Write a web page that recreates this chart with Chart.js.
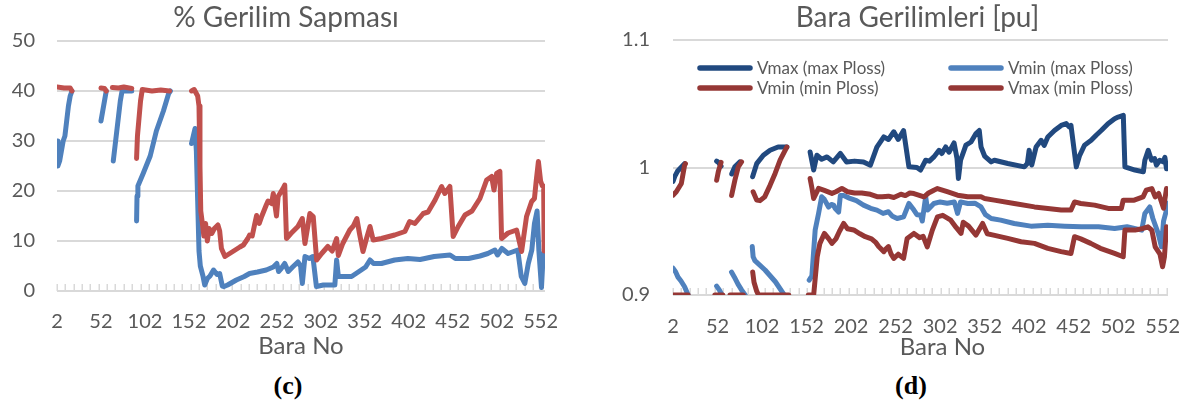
<!DOCTYPE html>
<html><head><meta charset="utf-8">
<script src="https://cdn.jsdelivr.net/npm/chart.js@4.4.0/dist/chart.umd.min.js"></script>
<style>
html,body{margin:0;padding:0;background:#fff;}
body{width:1190px;height:405px;position:relative;overflow:hidden;font-family:Lato,sans-serif;}
#wc{position:absolute;left:0;top:0;width:560px;height:365px;}
#wd{position:absolute;left:600px;top:0;width:590px;height:365px;}
.cap{position:absolute;width:60px;text-align:center;font-family:"Liberation Serif","Times New Roman",serif;font-weight:bold;font-size:26px;line-height:26px;color:#000;top:373px;}
</style></head><body>
<div id="wc"><canvas id="cc"></canvas></div>
<div id="wd"><canvas id="cd"></canvas></div>
<div class="cap" style="left:258px">(c)</div>
<div class="cap" style="left:881px">(d)</div>
<script>
// ---------- shared axis data ----------
const xTickValues = [2, 52, 102, 152, 202, 252, 302, 352, 402, 452, 502, 552];
const yTicksC = [0, 10, 20, 30, 40, 50];
const yTicksD = [0.9, 1.0, 1.1];
const yLabelsD = ['0.9', '1', '1.1'];

// ---------- chart (c): % Gerilim Sapması ----------
const cBlueBus = [2,3,5,7,9,11,13,15,17,19, 20,
  52,54,56,58, 60,
  66,68,70,72,74,76,87, 90,
  92.5,93,94,100,108,115,123,129,131, 140,
  155,157,159,160.5,162,163.5,165,168,170,173,176,180,184,187,190,192,196,206,215,221,230,240,248,252,254,257,261,265,270,276,279,281,284,289,293,297,305,318,320,322,337,348,353,358,362,371,386,401,415,431,449,455,470,483,492,500,503,508,515,526,530,534,538,542,545,548,550,553,555];
const cBlueVal = [30,25,26,28,30,31,34,37,39,40, null,
  34,36,38,40, null,
  26,29,32,35,38,40,40, null,
  14,19,21,23.5,27,32,36,39.5,40, null,
  29.5,31,32.5,28,18,8,5,3,1.2,2.5,3,4.2,3.3,3.5,1,0.9,1.2,2.2,2.9,3.5,3.8,4.2,4.8,5.5,3.9,4.5,5.5,3.9,4.8,5.8,5,1.5,6.9,6.5,6.9,0.9,1.2,1.2,6.2,2.9,2.9,4.2,4.8,6.2,5.5,5.5,6.2,6.5,6.3,6.9,7.2,6.5,6.5,7,7.5,8.2,7.2,8.5,7.5,8.2,2.9,1.5,5.5,8.2,13.5,16,8.2,0.7,7.5];

const cRedBus = [2,10,17,19, 20,
  52,56,58, 60,
  65,72,78,87, 90,
  92.5,93.5,95,97,99,110,120,130, 140,
  155,158,162,163.5,164.6,165.5,167,169,171,173,175,178,181,185,187,189,193,202,210,214,219,221,224,227,229,232,235,240,242,246,248,251.6,253.5,259,261,263,268,276,281,284,289.6,293.4,297.3,303,310,315,320,322,327,335,339,343,346,350,354,358,361.6,371,386,397.7,403,409,418.5,424,432,439.4,443,448.8,452.6,458.3,466,474,483,490.6,496.3,499,502,505.7,507.6,515,524.7,530.4,536,541.8,545,547,549.5,552,554,555.5,556];
const cRedVal = [40.8,40.6,40.6,40, null,
  40.6,40.5,40, null,
  40.7,40.6,40.8,40.5, null,
  26.5,31,34,38,40.3,40,40.2,40, null,
  40,40.3,39,37,25,16,14,11,13.5,10,12.5,11.5,12.5,13.2,12,8.5,6.9,7.9,8.8,9.2,10.5,11.2,11,13.5,15.1,13.5,15,17.2,18,17.5,19.5,15,18.9,20.5,21.2,10.5,11.5,12.9,14.5,9.5,15.5,14.9,6.2,7.5,8.9,8,10.5,7.1,9.5,12.2,13,14.5,11.5,7.9,10.5,12.9,10.2,10.5,11.2,11.9,13.9,13.5,15.5,15.8,18.2,20.9,19.5,20.9,10.9,12.9,15.2,16,18.5,22.2,22.9,20.2,23.5,23.9,10.5,11.6,12.2,7.9,14.9,17.9,18.5,22,25.9,22,21,21,8];

// ---------- chart (d): Bara Gerilimleri [pu] ----------
const dSeriesNames = ['Vmax (max Ploss)', 'Vmin (max Ploss)', 'Vmin (min Ploss)', 'Vmax (min Ploss)'];

const dVmaxMaxBus = [2,4,7,11,15, 20,
  51,53,56, 60,
  68,71.5,77, 85,
  91.4,96,103.5,111,120,130, 140,
  156,160,163.6,169,175,182,190,197,206,216,223.7,231,238.8,244,250,255,261,267,276,280,285.8,290,295,300.8,304,308.3,312,317.7,321,322.6,325,331,336.7,342.3,346,348,352,359.4,363,378,396.6,400,402,405,409.8,415.5,419,423,430.5,438,443.7,447,449,455,458.5,464.2,471.7,477.3,483,490.6,498,502,507.8,509.6,520.9,530.3,532,535.8,539.5,543,545,548.8,552.5,554.5,556.3];
const dVmaxMaxVal = [0.989,0.993,0.997,1.0,1.003, null,
  1.005,1.004,1.001, null,
  0.995,1.0005,1.0044, null,
  0.9927,1.003,1.0096,1.0135,1.0161,1.0161, null,
  1.0122,0.998,1.0096,1.0065,1.0083,1.0044,1.011,1.0044,1.005,1.0044,1.0018,1.016,1.024,1.022,1.028,1.022,1.029,1.0005,1.0,0.998,1.0057,1.005,1.0083,1.0135,1.011,1.0161,1.012,1.0193,1.007,0.9914,1.0057,1.0175,1.020,1.0266,1.029,1.0161,1.009,1.0044,1.0057,1.0031,1.0005,1.0031,1.0135,1.002,1.016,1.0213,1.0174,1.0239,1.029,1.033,1.0344,1.0318,1.033,1.0005,1.009,1.0175,1.0213,1.0253,1.029,1.0344,1.0383,1.0396,1.0409,1.0005,0.998,0.9966,1.0057,1.0135,1.0057,1.007,1.0018,1.0057,1.0044,1.008,0.999];

const dVminMaxBus = [2,5,7.6,11,15,19, 25,
  51,54,57, 60,
  67.7,71,75,79,83, 86,
  91,92,94,105.4,117,126,127, 140,
  155,158,161.7,165.5,169,172,176.7,180,182.4,184,188,190,193.7,200,208,216,224,231,238,244,248,253.8,261,267,272.6,276,280,282,285.8,288,295,302,310,318,321.6,325,333,341,348,353,359.4,370,385.3,404,423,442,460.5,480,498,512,528.5,532,537.5,541,547,550.7,553,556.3,557];
const dVminMaxVal = [0.921,0.918,0.914,0.911,0.9065,0.9, null,
  0.907,0.904,0.9, null,
  0.918,0.914,0.9085,0.904,0.9, null,
  0.938,0.93,0.927,0.9196,0.9104,0.901,0.9, null,
  0.9117,0.915,0.951,0.964,0.977,0.975,0.969,0.971,0.9705,0.968,0.965,0.978,0.978,0.976,0.974,0.9705,0.968,0.9666,0.964,0.9653,0.962,0.960,0.9613,0.9718,0.9666,0.963,0.9627,0.958,0.977,0.9666,0.9718,0.973,0.972,0.973,0.964,0.973,0.9718,0.972,0.9691,0.963,0.960,0.9587,0.9561,0.954,0.9548,0.954,0.9535,0.9535,0.9522,0.9535,0.9509,0.964,0.9691,0.960,0.9483,0.9378,0.958,0.9666,0.972];

const dVminMinBus = [2,19, 25,
  49,58, 60,
  66,81, 86,
  91.5,93,96,98,132, 140,
  154,160,162,164,167,172,177,180.5,185,189,193.7,198,205,212,218,225,230,233,238.8,241,244,247,250,255,261,265,272.6,279,283,287.6,293.3,299,305,314,320,325.5,328,334,342.3,349.8,355,362,378,393,408,423,438,449,453,460,471.2,482,498,507.7,509.6,521,530,535.5,539.8,543.6,549,551.9,554,556.3];
const dVminMinVal = [0.9,0.9, null,
  0.9,0.9, null,
  0.9,0.9, null,
  0.918,0.91,0.903,0.9,0.9, null,
  0.9,0.9,0.915,0.93,0.9405,0.9483,0.944,0.9405,0.944,0.950,0.9561,0.952,0.951,0.948,0.9457,0.944,0.941,0.938,0.934,0.936,0.938,0.932,0.9287,0.932,0.9287,0.9444,0.9483,0.945,0.946,0.9378,0.9509,0.9613,0.9625,0.9587,0.953,0.9483,0.957,0.954,0.947,0.9561,0.948,0.947,0.9444,0.9418,0.9405,0.9366,0.934,0.9326,0.9457,0.944,0.9405,0.9366,0.9326,0.930,0.9509,0.9509,0.9522,0.9535,0.9509,0.9378,0.932,0.9222,0.93,0.9535];

const dVmaxMinBus = [2,5.7,11.4,15,16, 20,
  51,53,56, 60,
  67.8,71.5,75.3,79, 85,
  92,96,99.7,105,111,116.7,122.3,129.8, 140,
  156,158,160,165.5,172,180.5,185,191.7,198,206,214,223.7,232,237,244,250,258,263,268,272.6,284,289,295,299,310,321.6,333,348,352,362.8,385.3,408,423,438,449,453,460,475.5,491,505.6,507.7,520,530,533.5,539.8,543.6,547.5,553,556.3];
const dVmaxMinVal = [0.9783,0.981,0.9875,1.0018,1.003, null,
  0.990,0.997,1.004, null,
  0.978,0.990,1.0005,1.0044, null,
  0.981,0.9744,0.974,0.977,0.986,0.9953,1.0057,1.016, null,
  0.9914,0.984,0.9757,0.9836,0.982,0.9797,0.981,0.9836,0.981,0.980,0.98,0.979,0.977,0.977,0.9775,0.9765,0.979,0.978,0.980,0.9796,0.977,0.980,0.9822,0.9835,0.981,0.9783,0.977,0.977,0.9757,0.9744,0.9718,0.9691,0.9679,0.9666,0.9666,0.973,0.9718,0.9705,0.9679,0.9679,0.9744,0.9744,0.977,0.9822,0.9835,0.977,0.9796,0.968,0.9835];

// ---------- helpers ----------
const pts = (xs, ys) => xs.map((x, i) => ({x: x, y: ys[i]}));
const GRAY = '#595959';
const GRID = '#d9d9d9';
const FONT = 'Lato, "Open Sans", sans-serif';

const minorTicks = {
  id: 'minorTicks',
  beforeDatasetsDraw(chart, args, o) {
    const {ctx, chartArea, scales} = chart;
    const x = scales.x;
    ctx.save();
    ctx.strokeStyle = GRID;
    ctx.lineWidth = 1.5;
    for (let v = x.min; v <= x.max + 0.01; v += o.step) {
      const px = Math.round(x.getPixelForValue(v)) + 0.25;
      ctx.beginPath();
      ctx.moveTo(px, chartArea.bottom);
      ctx.lineTo(px, chartArea.bottom - o.len);
      ctx.stroke();
    }
    ctx.restore();
  }
};

// shifts the Chart.js title block horizontally (Excel places it off the plot centre)
const titleShift = {
  id: 'titleShift',
  afterLayout(chart, args, o) {
    const t = chart.titleBlock;
    if (t && o.dx) { t.left += o.dx; t.right += o.dx; }
  }
};

const gridLegend = {
  id: 'gridLegend',
  afterDraw(chart, args, o) {
    if (!o.display) return;
    const {ctx, chartArea} = chart;
    ctx.save();
    ctx.font = '17px ' + FONT;
    ctx.textBaseline = 'middle';
    ctx.textAlign = 'left';
    chart.data.datasets.forEach((ds, i) => {
      const col = i % 2, row = Math.floor(i / 2);
      const x0 = chartArea.left + o.colX[col];
      const y0 = chartArea.top + o.rowY[row];
      ctx.strokeStyle = ds.borderColor;
      ctx.lineWidth = 5.5;
      ctx.lineCap = 'round';
      ctx.beginPath();
      ctx.moveTo(x0 + 3, y0);
      ctx.lineTo(x0 + o.swatch - 3, y0);
      ctx.stroke();
      ctx.fillStyle = GRAY;
      ctx.fillText(ds.label, x0 + o.swatch + 4, y0 + 1);
    });
    ctx.restore();
  }
};

const shiftedXTitle = {
  id: 'shiftedXTitle',
  afterDraw(chart, args, o) {
    if (!o.display) return;
    const {ctx, chartArea} = chart;
    ctx.save();
    ctx.font = '24px ' + FONT;
    ctx.fillStyle = GRAY;
    ctx.textAlign = 'center';
    ctx.textBaseline = 'middle';
    ctx.fillText(o.text, (chartArea.left + chartArea.right) / 2 + o.dx, o.y);
    ctx.restore();
  }
};

function lineDs(label, data, color, order) {
  return {label, data, borderColor: color, backgroundColor: color, borderWidth: 5,
    pointRadius: 0, pointHoverRadius: 0, tension: 0, spanGaps: false, order,
    borderJoinStyle: 'round', borderCapStyle: 'round', fill: false};
}

function xScale(max, padTicks, h, showTitle) {
  return {
    type: 'linear', min: 2, max: max,
    afterBuildTicks(s) { s.ticks = xTickValues.map(v => ({value: v})); },
    ticks: {autoSkip: false, maxRotation: 0, padding: padTicks, color: GRAY,
      font: {family: FONT, size: 20}, callback: v => String(v)},
    grid: {display: false, drawTicks: false},
    border: {display: false},
    title: {display: showTitle, text: 'Bara No', color: GRAY, font: {family: FONT, size: 24},
      padding: {top: 0, bottom: 4}},
    afterFit(s) { s.height = h; s.paddingLeft = 0; s.paddingRight = 0; }
  };
}

function yScale(min, max, ticksArr, labelsArr, pad, width) {
  return {
    min, max,
    afterBuildTicks(s) { s.ticks = ticksArr.map(v => ({value: v})); },
    ticks: {padding: pad, color: GRAY, font: {family: FONT, size: 20},
      callback: (v, i) => labelsArr ? labelsArr[i] : String(v)},
    grid: {color: GRID, lineWidth: 2, drawTicks: false},
    border: {display: false},
    afterFit(s) { s.width = width; s.paddingTop = 0; s.paddingBottom = 0; }
  };
}

Chart.defaults.animation = false;

new Chart(document.getElementById('cc'), {
  type: 'line',
  data: {datasets: [
    lineDs('% Sapma (max Ploss)', pts(cBlueBus, cBlueVal), '#4f81bd', 1),
    lineDs('% Sapma (min Ploss)', pts(cRedBus, cRedVal), '#c0504d', 0)
  ]},
  options: {
    responsive: true, maintainAspectRatio: false, animation: false,
    layout: {padding: {left: 0, right: 15, top: 0, bottom: 0}},
    plugins: {
      legend: {display: false}, tooltip: {enabled: false},
      title: {display: true, text: '% Gerilim Sapması', color: GRAY,
        font: {family: FONT, size: 28, weight: 'normal'}, padding: {top: 1, bottom: 6.4}},
      titleShift: {dx: 13.5},
      minorTicks: {step: 9.5, len: 7},
      gridLegend: {display: false},
      shiftedXTitle: {display: false}
    },
    scales: {
      x: xScale(557, 19, 365 - 291, true),
      y: yScale(0, 50, yTicksC, null, 22, 57)
    }
  },
  plugins: [titleShift, minorTicks, gridLegend, shiftedXTitle]
});

new Chart(document.getElementById('cd'), {
  type: 'line',
  data: {datasets: [
    lineDs(dSeriesNames[0], pts(dVmaxMaxBus, dVmaxMaxVal), '#21497f', 3),
    lineDs(dSeriesNames[1], pts(dVminMaxBus, dVminMaxVal), '#4f81bd', 2),
    lineDs(dSeriesNames[2], pts(dVminMinBus, dVminMinVal), '#953735', 1),
    lineDs(dSeriesNames[3], pts(dVmaxMinBus, dVmaxMinVal), '#953735', 0)
  ]},
  options: {
    responsive: true, maintainAspectRatio: false, animation: false,
    layout: {padding: {left: 0, right: 22, top: 0, bottom: 0}},
    plugins: {
      legend: {display: false}, tooltip: {enabled: false},
      title: {display: true, text: 'Bara Gerilimleri [pu]', color: GRAY,
        font: {family: FONT, size: 28, weight: 'normal'}, padding: {top: 1, bottom: 5.4}},
      titleShift: {dx: 33.5},
      minorTicks: {step: 9.4, len: 7},
      gridLegend: {display: true, colX: [24, 275], rowY: [28, 48], swatch: 56},
      shiftedXTitle: {display: true, text: 'Bara No', dx: 22, y: 347}
    },
    scales: {
      x: xScale(558, 20, 365 - 295, false),
      y: yScale(0.9, 1.1, yTicksD, yLabelsD, 23, 73)
    }
  },
  plugins: [titleShift, minorTicks, gridLegend, shiftedXTitle]
});
</script></body></html>
